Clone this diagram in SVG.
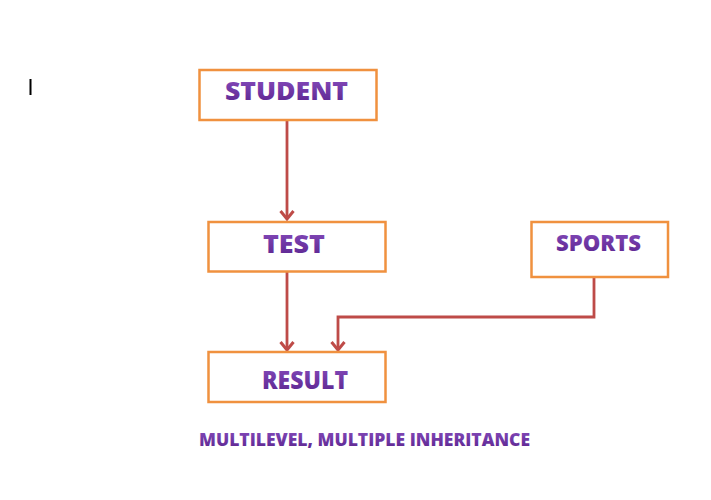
<svg xmlns="http://www.w3.org/2000/svg" width="711" height="500" viewBox="0 0 711 500">
<style>
.box{fill:#ffffff;stroke:#F0913F;stroke-width:2.5}
.lbl{font-family:"Open Sans","Liberation Sans",sans-serif;font-weight:800;fill:url(#tg);text-anchor:start}
.conn{fill:none;stroke:#BE4B48;stroke-width:2.8}
</style>
<defs>
<linearGradient id="tg" x1="0" y1="0" x2="0" y2="1">
<stop offset="0" stop-color="#8A4FC0"/>
<stop offset="1" stop-color="#58228C"/>
</linearGradient>
<marker id="arr" viewBox="0 0 12 16" refX="10" refY="8" markerWidth="12" markerHeight="16" markerUnits="userSpaceOnUse" orient="auto">
<polyline points="2,1.5 10,8 2,14.5" fill="none" stroke="#BE4B48" stroke-width="3"/>
</marker>
</defs>
<rect x="29.5" y="79" width="2" height="16" fill="#000"/>
<g id="connectors">
<path class="conn" d="M287,121 V219" marker-end="url(#arr)"/>
<path class="conn" d="M287,272 V350" marker-end="url(#arr)"/>
<path class="conn" d="M594,277 V317 H338 V350" marker-end="url(#arr)"/>
</g>
<g id="student">
<rect class="box" x="199.5" y="70" width="177" height="50"/>
<text class="lbl" x="225" y="100" font-size="24" textLength="123" lengthAdjust="spacingAndGlyphs">STUDENT</text>
</g>
<g id="test">
<rect class="box" x="208.5" y="222" width="177" height="49.5"/>
<text class="lbl" x="263" y="253" font-size="25" textLength="62" lengthAdjust="spacingAndGlyphs">TEST</text>
</g>
<g id="sports">
<rect class="box" x="531.5" y="222" width="136.5" height="55"/>
<text class="lbl" x="556" y="251" font-size="23" textLength="85" lengthAdjust="spacingAndGlyphs">SPORTS</text>
</g>
<g id="result">
<rect class="box" x="208.5" y="352" width="177" height="50"/>
<text class="lbl" x="262" y="389" font-size="25" textLength="86" lengthAdjust="spacingAndGlyphs">RESULT</text>
</g>
<g id="caption">
<text class="lbl" x="199" y="446" font-size="18" textLength="331" lengthAdjust="spacingAndGlyphs">MULTILEVEL,  MULTIPLE INHERITANCE</text>
</g>
</svg>
